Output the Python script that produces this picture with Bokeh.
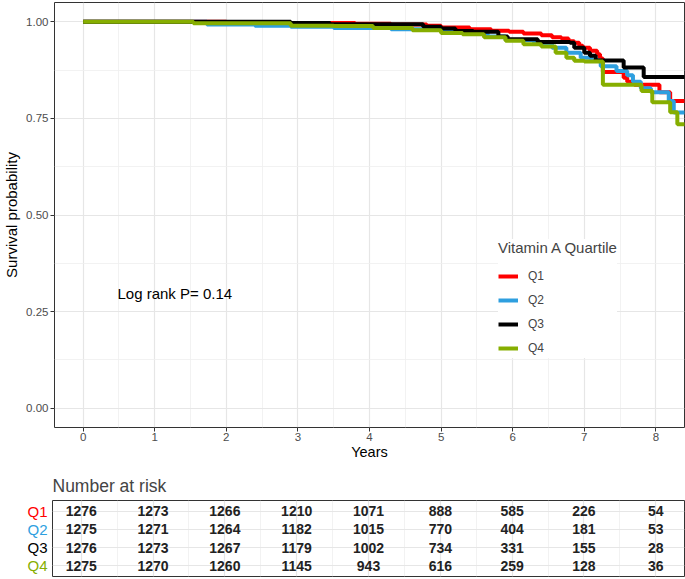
from bokeh.plotting import figure
from bokeh.models import (FixedTicker, NumeralTickFormatter, Legend, LegendItem, Label,
                          Range1d, Grid, ColumnDataSource)
from bokeh.layouts import column, row
from bokeh.embed import file_html
from bokeh.resources import INLINE
from bokeh.core.properties import value

FONT = "Liberation Sans"

groups = ["Q1", "Q2", "Q3", "Q4"]
colors = ["#FF0000", "#2E9FDF", "#000000", "#86AE00"]

# Kaplan-Meier step curves (time in years, survival probability)
q1_time = [0, 2.0, 3.8, 4.3, 4.8, 5.0, 5.4, 5.7, 5.95, 6.15, 6.4, 6.55, 6.68, 6.78, 6.86,
           6.93, 6.98, 7.08, 7.18, 7.22, 7.26, 7.55, 7.6, 7.7, 8.05, 8.2, 8.45]
q1_surv = [1.0, 0.997, 0.995, 0.993, 0.990, 0.985, 0.981, 0.977, 0.974, 0.970, 0.965, 0.960,
           0.957, 0.950, 0.946, 0.938, 0.933, 0.925, 0.916, 0.905, 0.870, 0.855, 0.845, 0.837,
           0.818, 0.795, 0.795]
q2_time = [0, 1.73, 2.4, 2.9, 3.5, 4.3, 4.9, 5.2, 5.45, 5.65, 5.9, 6.3, 6.55, 6.75, 6.95, 7.1,
           7.23, 7.45, 7.6, 7.68, 7.79, 7.93, 8.18, 8.25, 8.45]
q2_surv = [1.0, 0.993, 0.990, 0.987, 0.984, 0.981, 0.979, 0.975, 0.972, 0.962, 0.953, 0.945,
           0.933, 0.920, 0.907, 0.900, 0.885, 0.873, 0.862, 0.845, 0.828, 0.818, 0.795, 0.765,
           0.765]
q3_time = [0, 2.9, 3.45, 4.75, 5.0, 5.2, 5.45, 5.8, 5.93, 6.35, 6.8, 6.86, 7.0, 7.08, 7.16,
           7.55, 7.83, 8.45]
q3_surv = [1.0, 0.997, 0.994, 0.987, 0.983, 0.976, 0.974, 0.962, 0.955, 0.948, 0.946, 0.933,
           0.920, 0.912, 0.900, 0.882, 0.857, 0.857]
q4_time = [0, 1.54, 2.9, 3.5, 4.05, 4.6, 5.0, 5.3, 5.6, 5.9, 6.15, 6.4, 6.6, 6.75, 6.86, 7.0,
           7.26, 7.8, 7.95, 8.2, 8.3, 8.45]
q4_surv = [1.0, 0.996, 0.990, 0.989, 0.984, 0.978, 0.971, 0.968, 0.960, 0.951, 0.942, 0.936,
           0.920, 0.907, 0.899, 0.897, 0.837, 0.821, 0.792, 0.766, 0.735, 0.735]

# Number at risk table
risk_times = [0, 1, 2, 3, 4, 5, 6, 7, 8]
q1_risk = [1276, 1273, 1266, 1210, 1071, 888, 585, 226, 54]
q2_risk = [1275, 1271, 1264, 1182, 1015, 770, 404, 181, 53]
q3_risk = [1276, 1273, 1267, 1179, 1002, 734, 331, 155, 28]
q4_risk = [1275, 1270, 1260, 1145, 943, 616, 259, 128, 36]
risk_rows = [3, 2, 1, 0]

x_ticks = [0, 1, 2, 3, 4, 5, 6, 7, 8]
x_minor = [0.5, 1.5, 2.5, 3.5, 4.5, 5.5, 6.5, 7.5]
y_ticks = [0, 0.25, 0.5, 0.75, 1.0]
y_minor = [0.125, 0.375, 0.625, 0.875]

curves = [(q1_time, q1_surv), (q2_time, q2_surv), (q3_time, q3_surv), (q4_time, q4_surv)]
risks = [q1_risk, q2_risk, q3_risk, q4_risk]

W = 685
LEFT = 52
H_MAIN = 466
H_TAB = 112
TAB_TOP = 34

p = figure(width=W, height=H_MAIN, x_range=Range1d(-0.4, 8.4), y_range=Range1d(-0.05, 1.05),
           output_backend="svg", toolbar_location=None,
           min_border_left=LEFT, min_border_right=1, min_border_top=2, min_border_bottom=39)
p.outline_line_color = "#333333"
p.outline_line_width = 1
p.outline_line_alpha = 1

for grid in (p.xgrid, p.ygrid):
    grid.grid_line_color = "#e6e6e6"
    grid.grid_line_width = 1.2
    grid.minor_grid_line_color = "#efefef"
    grid.minor_grid_line_width = 0.8

p.xaxis.ticker = FixedTicker(ticks=x_ticks, minor_ticks=x_minor)
p.yaxis.ticker = FixedTicker(ticks=y_ticks, minor_ticks=y_minor)
p.yaxis.formatter = NumeralTickFormatter(format="0.00")
for ax in (p.xaxis, p.yaxis):
    ax.axis_line_color = None
    ax.major_tick_line_color = "#333333"
    ax.major_tick_out = 4
    ax.major_tick_in = 0
    ax.minor_tick_out = 0
    ax.minor_tick_in = 0
    ax.major_label_text_color = "#4d4d4d"
    ax.major_label_text_font = FONT
    ax.major_label_text_font_size = "11.5px"
    ax.major_label_standoff = 2
    ax.axis_label_text_font = FONT
    ax.axis_label_text_font_size = "14.5px"
    ax.axis_label_text_font_style = "normal"
    ax.axis_label_text_color = "#000000"
    ax.axis_label_standoff = 3
p.xaxis.major_label_standoff = 1
p.xaxis.axis_label_standoff = 0
p.xaxis.axis_label = "Years"
p.yaxis.axis_label = "Survival probability"
p.yaxis.axis_label_text_font_size = "15px"

items = []
for g, c, (tt, ss) in zip(groups, colors, curves):
    r = p.step(tt, ss, mode="after", line_color=c, line_width=4)
    items.append(LegendItem(label=g, renderers=[r]))

legend = Legend(items=items, location=(444, 69), title="Vitamin A Quartile",
                title_text_font=FONT, title_text_font_size="15px", title_text_font_style="normal",
                title_standoff=10, label_text_font=FONT, label_text_font_size="12px",
                glyph_width=20, glyph_height=20, label_height=20, label_standoff=10,
                spacing=4, padding=10, margin=0, border_line_color=None,
                background_fill_color="white", background_fill_alpha=1)
p.add_layout(legend)

p.add_layout(Label(x=0.48, y=0.298, text="Log rank P= 0.14", text_font=FONT,
                   text_font_size="15px", text_baseline="middle", text_color="#000000"))

# risk table
t = figure(width=W - LEFT, height=H_TAB, x_range=p.x_range, y_range=Range1d(-0.6, 3.6),
           x_axis_type=None, y_axis_type=None, output_backend="svg", toolbar_location=None,
           min_border_left=0, min_border_right=1, min_border_top=TAB_TOP, min_border_bottom=2,
           title="Number at risk")
t.outline_line_color = "#333333"
t.outline_line_width = 1
t.outline_line_alpha = 1
t.title.text_font = FONT
t.title.text_font_size = "17.5px"
t.title.text_font_style = "normal"
t.title.align = "left"
t.title.standoff = 9
t.add_layout(Grid(dimension=0, ticker=FixedTicker(ticks=x_ticks, minor_ticks=x_minor),
                  grid_line_color="#e6e6e6", grid_line_width=1.2,
                  minor_grid_line_color="#efefef", minor_grid_line_width=0.8))
t.add_layout(Grid(dimension=1, ticker=FixedTicker(ticks=risk_rows),
                  grid_line_color="#e6e6e6", grid_line_width=1.2))

# row labels in a narrow strip left of the table
lab = figure(width=LEFT, height=H_TAB, x_range=Range1d(0, 1), y_range=t.y_range,
             x_axis_type=None, y_axis_type=None, output_backend="svg", toolbar_location=None,
             min_border_left=0, min_border_right=0, min_border_top=TAB_TOP, min_border_bottom=2)
lab.outline_line_color = None
lab.xgrid.visible = False
lab.ygrid.visible = False

for g, c, rr, vals in zip(groups, colors, risk_rows, risks):
    src = ColumnDataSource(dict(x=risk_times, y=[rr] * len(vals), text=[str(v) for v in vals]))
    t.text(x="x", y="y", text="text", source=src, text_align="center", text_baseline="middle",
           text_font=value(FONT), text_font_size=value("14px"), text_font_style="bold",
           text_color="#222222")
    lab.text(x=[1], y=[rr], text=[g], x_offset=-5, text_align="right", text_baseline="middle",
             text_color=c, text_font=value(FONT), text_font_size=value("15px"))

layout = column(p, row(lab, t, spacing=0), spacing=0)
open("out.html", "w").write(file_html(layout, INLINE))
